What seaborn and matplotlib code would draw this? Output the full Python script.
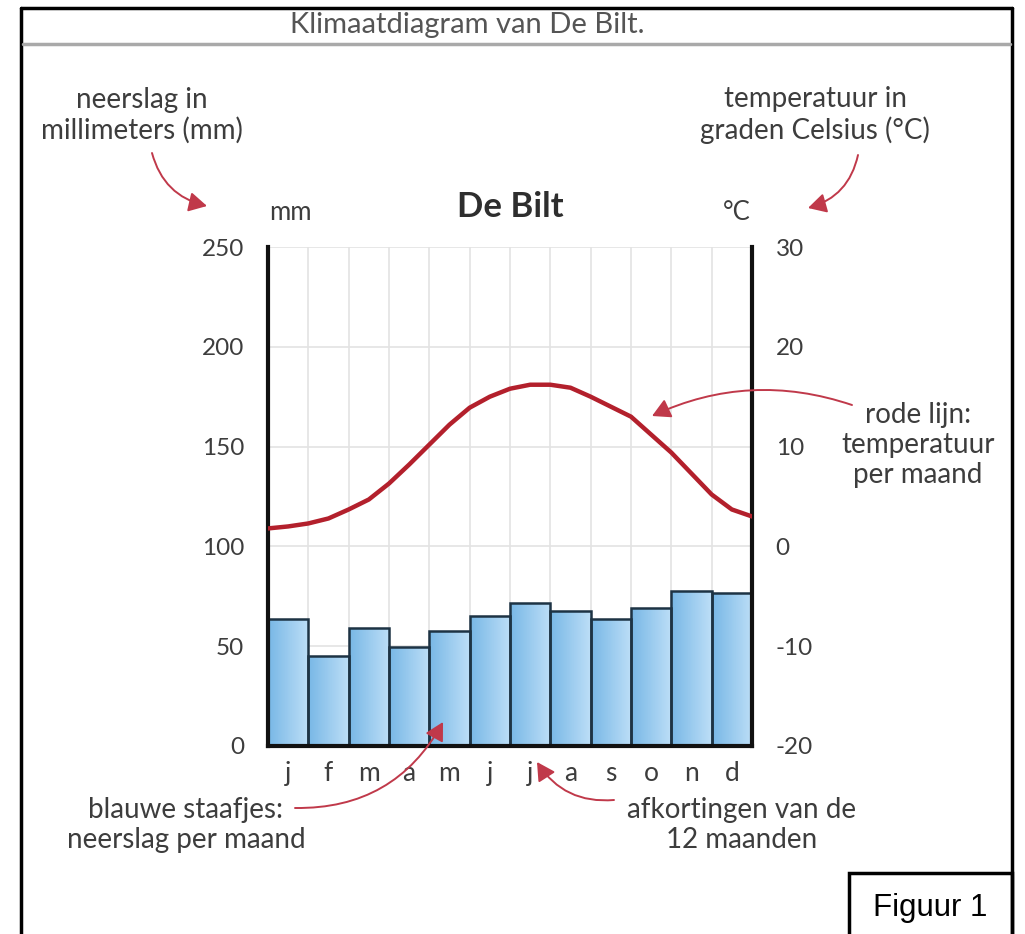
import numpy as np
import pandas as pd
import matplotlib
matplotlib.use("Agg")
import matplotlib.pyplot as plt
import seaborn as sns
from matplotlib.patches import FancyArrowPatch, Rectangle
from matplotlib.colors import LinearSegmentedColormap
from matplotlib.lines import Line2D

# ---------------- data ----------------
months = ["januari", "februari", "maart", "april", "mei", "juni", "juli",
          "augustus", "september", "oktober", "november", "december"]
month_labels = ["j", "f", "m", "a", "m", "j", "j", "a", "s", "o", "n", "d"]
precip_mm = [63.5, 45.0, 59.2, 49.4, 57.5, 64.9, 71.5, 67.8, 63.7, 68.9, 77.5, 76.6]
# temperature curve read at month boundaries and month centres (position in months)
temp_pos = [-0.5, 0.0, 0.5, 1.0, 1.5, 2.0, 2.5, 3.0, 3.5, 4.0, 4.5, 5.0, 5.5,
            6.0, 6.5, 7.0, 7.5, 8.0, 8.5, 9.0, 9.5, 10.0, 10.5, 11.0, 11.5]
temp_c = [1.8, 2.0, 2.3, 2.8, 3.7, 4.7, 6.3, 8.2, 10.2, 12.2, 13.9, 15.0, 15.8,
          16.2, 16.2, 15.9, 15.0, 14.0, 13.0, 11.2, 9.4, 7.3, 5.2, 3.7, 3.0]
mm_ticks = [0, 50, 100, 150, 200, 250]
c_ticks = [-20, -10, 0, 10, 20, 30]

# ---------------- style ----------------
sns.set_theme(style="white")
plt.rcParams['font.family'] = ['Lato', 'DejaVu Sans']
plt.rcParams['axes.unicode_minus'] = False
TXT = "#3d3d3d"
RED = "#b3202c"
ARROW = "#c0394a"

W, H = 1025, 934
fig = plt.figure(figsize=(W / 100, H / 100), dpi=100)
fig.patch.set_facecolor("white")

L, R, T, B = 268, 752, 247, 746
ax = fig.add_axes([L / W, 1 - B / H, (R - L) / W, (B - T) / H])

df = pd.DataFrame({"maand": months, "neerslag": precip_mm})
sns.barplot(data=df, x="maand", y="neerslag", ax=ax, width=1.0,
            color="#8cc3ea", edgecolor="#1d3344", linewidth=1.8,
            saturation=1, zorder=2)

# horizontal gradient fill of the bars
cmap = LinearSegmentedColormap.from_list("bl", ["#78b7e6", "#bddff7"])
grad = np.linspace(0, 1, 64).reshape(1, -1)
for p in list(ax.patches):
    x0, y0 = p.get_x(), p.get_y()
    w, h = p.get_width(), p.get_height()
    im = ax.imshow(grad, extent=[x0, x0 + w, y0, y0 + h], aspect="auto",
                   cmap=cmap, zorder=1.8, interpolation="bilinear")
    im.set_clip_path(p)
    p.set_facecolor("none")

ax.set_aspect("auto")
ax.set_xlim(-0.5, 11.5)
ax.set_ylim(0, 250)
ax.set_yticks(mm_ticks)
ax.set_xticks(range(12))
ax.set_xticklabels(month_labels)
ax.set_xticks(np.arange(-0.5, 12, 1), minor=True)
ax.grid(which="minor", axis="x", color="#e3e3e3", lw=1.2, zorder=0.5)
ax.grid(which="major", axis="y", color="#e3e3e3", lw=1.2, zorder=0.5)
ax.grid(which="major", axis="x", visible=False)
ax.set_axisbelow(True)
ax.set_xlabel("")
ax.set_ylabel("")
ax.tick_params(axis="x", which="both", length=0, pad=11, labelsize=19, labelcolor=TXT)
ax.tick_params(axis="y", length=0, pad=17, labelsize=17.5, labelcolor=TXT)
ax.spines["top"].set_visible(False)
for s in ["left", "right", "bottom"]:
    ax.spines[s].set_color("#111111")
    ax.spines[s].set_linewidth(3)

ax2 = ax.twinx()
sns.lineplot(x=temp_pos, y=temp_c, ax=ax2, color=RED, lw=3.2,
             solid_joinstyle="round", solid_capstyle="round")
ax2.set_ylim(-20, 30)
ax2.set_yticks(c_ticks)
ax2.set_ylabel("")
ax2.tick_params(axis="y", length=0, pad=17, labelsize=17.5, labelcolor=TXT)
for s in ax2.spines.values():
    s.set_visible(False)
ax.set_xlim(-0.5, 11.5)

# ---------------- overlay (texts, arrows, frame) ----------------
ov = fig.add_axes([0, 0, 1, 1], zorder=10)
ov.set_xlim(0, W)
ov.set_ylim(H, 0)
ov.axis("off")
ov.patch.set_alpha(0)

# frame
ov.add_line(Line2D([21, 21], [8, H], color="black", lw=2.5))
ov.add_line(Line2D([21, 1012], [8, 8], color="black", lw=2.5))
ov.add_line(Line2D([1012, 1012], [8, H], color="black", lw=2.5))
ov.add_line(Line2D([23, 1010], [44, 44], color="#a9a9a9", lw=2.5))
ov.add_patch(Rectangle((849, 873), 163, 70, facecolor="white", edgecolor="black", lw=2.5))
ov.text(930, 908, "Figuur 1", ha="center", va="center", fontsize=22.5,
        color="black", family=["Liberation Sans", "DejaVu Sans"])

ov.text(467, 25, "Klimaatdiagram van De Bilt.", ha="center", va="center",
        fontsize=21, color="#555555")

ov.text(510, 207, "De Bilt", ha="center", va="center", fontsize=25,
        fontweight="bold", color="#2e2e2e")
ov.text(290, 213, "mm", ha="center", va="center", fontsize=18.5, color=TXT)
ov.text(737, 213, "°C", ha="center", va="center", fontsize=18.5, color=TXT)

kw = dict(ha="center", va="center", fontsize=20, color=TXT, linespacing=1.17)
ov.text(142, 115, "neerslag in\nmillimeters (mm)", **kw)
ov.text(815, 115, "temperatuur in\ngraden Celsius (°C)", **kw)
ov.text(918, 445, "rode lijn:\ntemperatuur\nper maand", **kw)
ov.text(186, 825, "blauwe staafjes:\nneerslag per maand", **kw)
ov.text(742, 825, "afkortingen van de\n12 maanden", **kw)


def arrow(p0, p1, rad):
    a = FancyArrowPatch(p0, p1, connectionstyle=f"arc3,rad={rad}",
                        arrowstyle="-|>,head_length=11,head_width=6",
                        color=ARROW, lw=1.4, mutation_scale=1,
                        shrinkA=0, shrinkB=0)
    ov.add_patch(a)


arrow((152, 153), (207, 206), 0.3)
arrow((858, 155), (808, 208), -0.3)
arrow((852, 405), (652, 416), 0.2)
arrow((295, 808), (443, 722), 0.3)
arrow((614, 800), (537, 762), -0.3)

fig.savefig("out.png", dpi=100, facecolor="white")
